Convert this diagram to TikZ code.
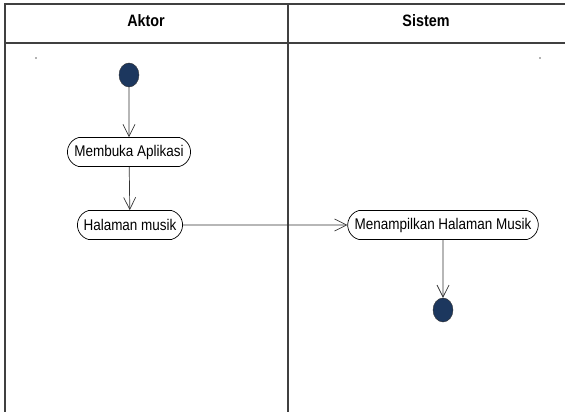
\documentclass[tikz,border=0pt]{standalone}
\usepackage{fontspec}
\setmainfont{Liberation Sans}
\newfontfamily\lanefont[FakeStretch=0.87]{Liberation Sans}
\usetikzlibrary{arrows.meta,shapes.misc,shapes.geometric}

\begin{document}
\begin{tikzpicture}[x=1pt,y=-1pt]

	\useasboundingbox (0,0) rectangle (565,412);

	\tikzset{lane/.style={draw=black!75,line width=1.6pt}}
	\tikzset{head/.style={font=\lanefont\bfseries\fontsize{16.5}{18}\selectfont}}
	\tikzset{act/.style={draw,rounded rectangle,rounded rectangle arc length=150,line width=0.7pt,minimum height=29pt,inner xsep=5pt,font=\lanefont\fontsize{15.5}{17}\selectfont}}
	\tikzset{dot/.style={draw=black!80,fill={rgb,255:red,28;green,55;blue,94},ellipse,inner sep=0pt,minimum width=20pt,minimum height=24pt}}
	\tikzset{flow/.style={draw=black!80,line width=0.7pt,-{Straight Barb[length=12pt,width=12pt]}}}

	% swimlanes

	\draw[lane] (5,412) -- (5,4) -- (566,4);
	\draw[lane] (5,43) -- (566,43);
	\draw[lane] (288,4) -- (288,412);

	\node[head] (aktor) at (146,21) {Aktor};
	\node[head] (sistem) at (426,21) {Sistem};

	\fill[black!60] (36,58) circle (0.8); \fill[black!60] (540,58) circle (0.8);

	% activities

	\node[dot] (start) at (129,75) {};
	\node[act] (buka) at (129,152) {Membuka Aplikasi};
	\node[act] (halaman) at (130,225) {Halaman musik};
	\node[act] (tampil) at (443,225) {Menampilkan Halaman Musik};
	\node[dot] (end) at (443,310) {};

	\draw[flow] (start) -- (buka);
	\draw[flow] (buka) -- (halaman);
	\draw[flow] (halaman) -- (tampil);
	\draw[flow] (tampil) -- (end);

\end{tikzpicture}
\end{document}
